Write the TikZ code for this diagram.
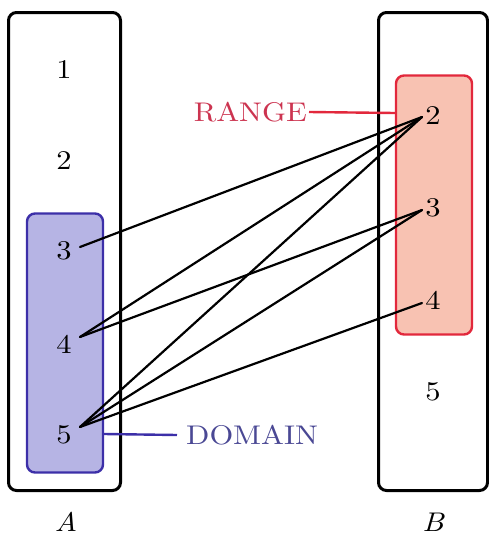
\documentclass[tikz,border=0pt]{standalone}
\usepackage{fontspec}
\usetikzlibrary{calc}
\newfontfamily\tenrm{lmroman10-regular.otf}
\newfontfamily\tenit{lmroman10-italic.otf}
\definecolor{domfill}{HTML}{B6B4E4}
\definecolor{domline}{HTML}{3C2FA8}
\definecolor{domtext}{HTML}{4A4894}
\definecolor{rngfill}{HTML}{F8C2B2}
\definecolor{rngline}{HTML}{E2283C}
\definecolor{rngtext}{HTML}{CC3450}
\newcommand\widetxt[1]{\scalebox{1.13}[1]{#1}}
\begin{document}
\begin{tikzpicture}[x=1pt,y=-1pt,
  setbox/.style={draw=black,line width=3pt,rounded corners=8pt,minimum width=112pt,minimum height=478pt,inner sep=0pt},
  subbox/.style={line width=2.4pt,rounded corners=8pt,minimum width=76pt,minimum height=259pt,inner sep=0pt},
  elem/.style={font=\tenrm\fontsize{27}{32}\selectfont,inner sep=0pt},
  tag/.style={font=\tenrm\fontsize{27}{32}\selectfont,inner sep=0pt},
  setname/.style={font=\tenit\fontsize{27}{32}\selectfont,inner sep=0pt},
  arrowline/.style={line width=2.2pt,black,line cap=round},
  pointer/.style={line width=2.4pt}]
\useasboundingbox (0,0) rectangle (489,541);

% the two sets
\node[setbox] (A) at (64.5,251.5) {};
\node[setbox,minimum width=109pt] (B) at (433,251.5) {};

% domain and range highlights
\node[subbox,draw=domline,fill=domfill] (dbox) at (65,343) {};
\node[subbox,draw=rngline,fill=rngfill] (rbox) at (434,205) {};

% elements of A
\node[elem] (a1) at (64,70) {\widetxt{1}};
\node[elem] (a2) at (64,161) {\widetxt{2}};
\node[elem] (a3) at (64,251) {\widetxt{3}};
\node[elem] (a4) at (64,344) {\widetxt{4}};
\node[elem] (a5) at (64,435) {\widetxt{5}};

% elements of B
\node[elem] (b2) at (433,116) {\widetxt{2}};
\node[elem] (b3) at (433,208) {\widetxt{3}};
\node[elem] (b4) at (433,300) {\widetxt{4}};
\node[elem] (b5) at (433,392) {\widetxt{5}};

% connection points beside the digits
\path (a3) ++(16,-4) coordinate (a3r);
\path (a4) ++(16,-7) coordinate (a4r);
\path (a5) ++(16,-8) coordinate (a5r);
\path (b2) ++(-11,1) coordinate (b2l);
\path (b3) ++(-11,2) coordinate (b3l);
\path (b4) ++(-11,3) coordinate (b4l);

% the relation
\draw[arrowline] (a3r) -- (b2l);
\draw[arrowline] (a4r) -- (b2l);
\draw[arrowline] (a4r) -- (b3l);
\draw[arrowline] (a5r) -- (b2l);
\draw[arrowline] (a5r) -- (b3l);
\draw[arrowline] (a5r) -- (b4l);

% labels
\node[tag,text=rngtext,anchor=east] (rng) at (307,112) {\widetxt{RANGE}};
\node[tag,text=domtext,anchor=west] (dom) at (186,435) {\widetxt{DOMAIN}};
\draw[pointer,rngline] ([xshift=2pt]rng.east) -- (rbox.west |- 0,113);
\draw[pointer,domline] (dbox.east |- 0,434) -- ([xshift=-9pt]dom.west);

\node[setname] (la) at (66,522) {\widetxt{A}};
\node[setname] (lb) at (433,522) {\widetxt{B}};
\end{tikzpicture}
\end{document}
